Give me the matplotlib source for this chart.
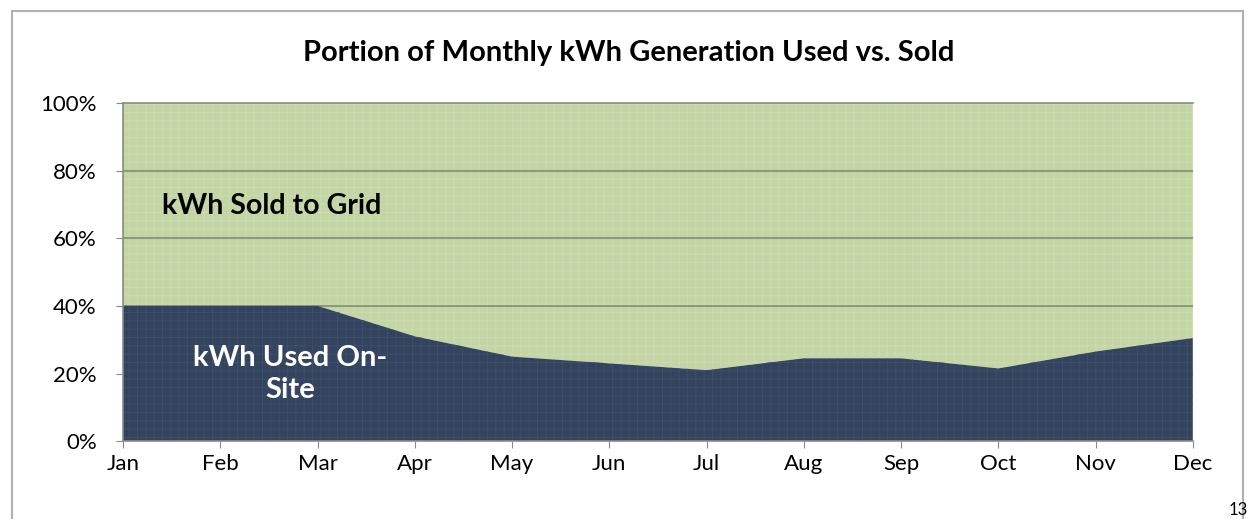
import numpy as np
import matplotlib.pyplot as plt
from matplotlib.patches import Rectangle

months = ['Jan', 'Feb', 'Mar', 'Apr', 'May', 'Jun', 'Jul', 'Aug', 'Sep', 'Oct', 'Nov', 'Dec']
used = [40, 40, 40, 31, 25, 23, 21, 24.5, 24.5, 21.5, 26.5, 30.5]
sold = [100 - u for u in used]
yticks = [0, 20, 40, 60, 80, 100]

plt.rcParams['font.family'] = ['Lato', 'DejaVu Sans']
plt.rcParams['hatch.linewidth'] = 0.6

fig = plt.figure(figsize=(12.49, 5.19), dpi=100)
ax = fig.add_axes([0.0985, 0.150, 0.8565, 0.6515])

x = np.arange(len(months))
navy = '#34445f'
green = '#c4d5a5'

ax.fill_between(x, 0, used, facecolor=navy, edgecolor='#3e506d', hatch='++', linewidth=0, zorder=2)
ax.fill_between(x, used, np.array(used) + np.array(sold), facecolor=green,
                edgecolor='#ccdcb0', hatch='++', linewidth=0, zorder=1)

for t in yticks[1:-1]:
    ax.axhline(t, color='#8d9a78', lw=1.5, zorder=1.5)

ax.set_xlim(0, 11)
ax.set_ylim(0, 100)
ax.set_yticks(yticks)
ax.set_yticklabels([f'{t}%' for t in yticks], fontsize=16)
ax.set_xticks(x)
ax.set_xticklabels(months, fontsize=16)
ax.tick_params(axis='y', length=5, color='#888888', pad=14)
ax.tick_params(axis='x', length=5, color='#888888', pad=4)
ax.spines['right'].set_visible(False)
for s in ['left', 'bottom', 'top']:
    ax.spines[s].set_color('#8a8a8a')
    ax.spines[s].set_linewidth(1.2)
ax.spines['top'].set_zorder(5)

ax.text(0.4, 69.5, 'kWh Sold to Grid', fontsize=20.5, fontweight='bold', color='black',
        va='center', zorder=6)
ax.text(1.72, 19.8, 'kWh Used On-\nSite', fontsize=21, fontweight='bold', color='white',
        ha='center', va='center', linespacing=1.3, zorder=6)

fig.text(0.503, 0.898, 'Portion of Monthly kWh Generation Used vs. Sold', ha='center', va='center',
         fontsize=21, fontweight='bold', color='black')

fig.patches.append(Rectangle((0.0095, -0.1), 0.9855, 1.079, transform=fig.transFigure,
                             fill=False, edgecolor='#b0b0b0', lw=1.5))
fig.text(0.999, 0.002, '13', fontsize=12, ha='right', va='bottom')

fig.savefig('out.png', dpi=100)
